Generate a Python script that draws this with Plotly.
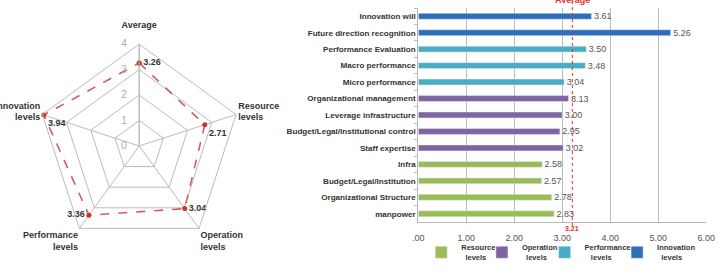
import plotly.graph_objects as go

# ---------------- data ----------------
radar_axes = ["Average<br>\u00a0", "Resource<br>levels", "Operation<br>levels", "Performance<br>levels", "Innovation<br>levels"]
radar_values = [3.26, 2.71, 3.04, 3.36, 3.94]
radar_text_pos = ["middle right", "bottom right", "middle right", "middle left", "bottom right"]
radial_ticks = [0, 1, 2, 3, 4]

bar_items = ["Innovation will", "Future direction recognition", "Performance Evaluation",
             "Macro performance", "Micro performance", "Organizational management",
             "Leverage infrastructure", "Budget/Legal/Institutional control", "Staff expertise",
             "Infra", "Budget/Legal/Institution", "Organizational Structure", "manpower"]
bar_values = [3.61, 5.26, 3.50, 3.48, 3.04, 3.13, 3.00, 2.95, 3.02, 2.58, 2.57, 2.78, 2.83]
bar_groups = ["Innovation", "Innovation", "Performance", "Performance", "Performance",
              "Operation", "Operation", "Operation", "Operation",
              "Resource", "Resource", "Resource", "Resource"]
group_order = ["Resource", "Operation", "Performance", "Innovation"]
group_labels = {"Resource": "<b>Resource</b><br><b>\u00a0\u00a0levels</b>",
                "Operation": "<b>Operation</b><br><b>\u00a0\u00a0levels</b>",
                "Performance": "<b>Performance</b><br><b>\u00a0\u00a0\u00a0levels</b>",
                "Innovation": "<b>Innovation</b><br><b>\u00a0\u00a0levels</b>"}
group_colors = {"Resource": "#9bbb59", "Operation": "#8064a2",
                "Performance": "#4bacc6", "Innovation": "#2f6eba"}
average_value = 3.21
x_ticks = [0, 1, 2, 3, 4, 5, 6]
x_ticktext = [".00", "1.00", "2.00", "3.00", "4.00", "5.00", "6.00"]

W, H = 725, 278
FONT = "Liberation Sans"
DARK = "#333333"

fig = go.Figure()

# ---------------- radar ----------------
fig.add_trace(go.Scatterpolar(
    r=radar_values + radar_values[:1],
    theta=radar_axes + radar_axes[:1],
    mode="lines+markers+text",
    text=[f"{v:.2f}" for v in radar_values] + [""],
    textposition=radar_text_pos + ["middle right"],
    textfont=dict(family=FONT, size=9, color=DARK, weight="bold"),
    line=dict(color="#d65a5a", width=1.6, dash="dash"),
    marker=dict(color="#c0392b", size=5),
    showlegend=False,
    cliponaxis=False,
))

cx, cy, rad = 136, 146, 104
fig.update_layout(
    polar=dict(
        domain=dict(x=[(cx - rad) / W, (cx + rad) / W],
                    y=[(H - cy - rad) / H, (H - cy + rad) / H]),
        gridshape="linear",
        bgcolor="white",
        radialaxis=dict(range=[0, 4], tickvals=radial_ticks,
                        ticktext=[f"{t}\u00a0\u00a0\u00a0" for t in radial_ticks],
                        angle=90, tickangle=90,
                        showline=True, linecolor="#bbbbbb", gridcolor="#bbbbbb",
                        ticks="", tickfont=dict(family=FONT, size=10, color="#aaaaaa"),
                        side="counterclockwise"),
        angularaxis=dict(rotation=90, direction="clockwise",
                         linecolor="#bbbbbb", gridcolor="#bbbbbb", ticks="",
                         tickfont=dict(family=FONT, size=9, color=DARK, weight="bold")),
    )
)

# ---------------- bars ----------------
legend_names = ["legend", "legend2", "legend3", "legend4"]
for g, lg in zip(group_order, legend_names):
    ys = [it for it, gg in zip(bar_items, bar_groups) if gg == g]
    xs = [v for v, gg in zip(bar_values, bar_groups) if gg == g]
    fig.add_trace(go.Bar(
        x=xs, y=ys, orientation="h", name=group_labels[g], legend=lg,
        marker=dict(color=group_colors[g]), width=0.36,
        text=[f"\u00a0{v:.2f}" for v in xs], textposition="outside", constraintext="none",
        textfont=dict(family=FONT, size=9, color="#555555"),
        cliponaxis=False,
        xaxis="x", yaxis="y",
    ))

fig.add_shape(type="line", xref="x", yref="paper", x0=average_value, x1=average_value,
              y0=(H - 226) / H, y1=1.0, line=dict(color="#e03030", width=1, dash="dot"))
fig.add_annotation(x=average_value, xref="x", y=1.0, yref="paper", yanchor="middle",
                   text="Average", showarrow=False,
                   font=dict(family=FONT, size=9, color="#e03030", weight="bold"))
fig.add_annotation(x=average_value, xref="x", y=(H - 228) / H, yref="paper", yanchor="middle",
                   text=f"{average_value:.2f}", showarrow=False,
                   font=dict(family=FONT, size=7, color="#e03030", weight="bold"))

leg_common = dict(orientation="h", xanchor="left", yanchor="top", y=(H - 236) / H,
                  font=dict(family=FONT, size=7.5, color=DARK),
                  bgcolor="rgba(0,0,0,0)", itemwidth=30)
legend_x = [424, 486, 550, 624]

fig.update_layout(
    width=W, height=H,
    margin=dict(l=0, r=0, t=0, b=0),
    paper_bgcolor="white", plot_bgcolor="white",
    barmode="overlay",
    xaxis=dict(domain=[421 / W, 715 / W], range=[0, 6], tickvals=x_ticks, ticktext=x_ticktext,
               showgrid=True, gridcolor="#bbbbbb", zeroline=False,
               showline=True, linecolor="#bbbbbb",
               ticks="outside", ticklen=7, tickcolor="rgba(0,0,0,0)",
               tickfont=dict(family=FONT, size=9, color="#555555")),
    yaxis=dict(domain=[(H - 222) / H, (H - 8) / H], autorange="reversed",
               categoryorder="array", categoryarray=bar_items,
               showline=True, linecolor="#bbbbbb", showgrid=False,
               ticks="outside", ticklen=3, tickcolor="#bbbbbb", tickson="boundaries",
               tickfont=dict(family=FONT, size=8.1, color=DARK, weight="bold")),
    legend=dict(leg_common, x=legend_x[0] / W),
    legend2=dict(leg_common, x=legend_x[1] / W),
    legend3=dict(leg_common, x=legend_x[2] / W),
    legend4=dict(leg_common, x=legend_x[3] / W),
    showlegend=True,
)

fig.write_html("out.html")
